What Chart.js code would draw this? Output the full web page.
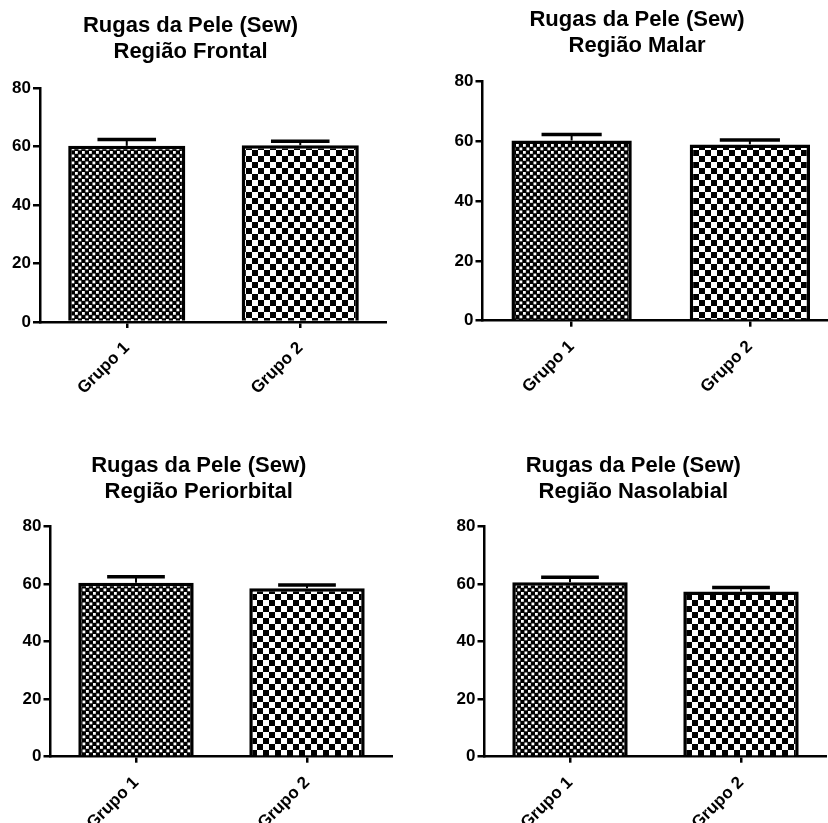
<!DOCTYPE html>
<html>
<head>
<meta charset="utf-8">
<script src="https://cdn.jsdelivr.net/npm/chart.js@4.4.1/dist/chart.umd.min.js"></script>
<style>
  html, body { margin: 0; padding: 0; background: #fff; width: 828px; height: 823px; overflow: hidden; position: relative; }
  canvas { position: absolute; }
</style>
</head>
<body>
<canvas id="c0"></canvas>
<canvas id="c1"></canvas>
<canvas id="c2"></canvas>
<canvas id="c3"></canvas>
<script>
// ---- data ----
const categories = ['Grupo 1', 'Grupo 2'];
const titleTop = 'Rugas da Pele (Sew)';
const regions = ['Região Frontal', 'Região Malar', 'Região Periorbital', 'Região Nasolabial'];

const frontalMean = [60.2, 60.4];
const frontalSem  = [2.2, 1.4];
const malarMean = [60.3, 59.0];
const malarSem  = [2.0, 1.5];
const periorbitalMean = [60.5, 58.6];
const periorbitalSem  = [2.1, 1.1];
const nasolabialMean = [60.7, 57.4];
const nasolabialSem  = [1.7, 1.4];

const yTicks = [0, 20, 40, 60, 80];

// ---- panel geometry (canvas placement and axis box sizes) ----
const panels = [
  { id: 'c0', mean: frontalMean,     sem: frontalSem,     region: regions[0], left: -6,  top: 0,   w: 393, h: 410, padR: 0,   yw: 46,   xh: 88,   tTop: 12.5, tBot: 23.5 },
  { id: 'c1', mean: malarMean,       sem: malarSem,       region: regions[1], left: 435, top: 0,   w: 404, h: 410, padR: 0,   yw: 47.5, xh: 89.3, tTop: 7,    tBot: 22.7 },
  { id: 'c2', mean: periorbitalMean, sem: periorbitalSem, region: regions[2], left: 5,   top: 420, w: 388, h: 403, padR: 0.5, yw: 45.5, xh: 66.3, tTop: 33.3, tBot: 21.4 },
  { id: 'c3', mean: nasolabialMean,  sem: nasolabialSem,  region: regions[3], left: 440, top: 420, w: 387, h: 403, padR: 0.5, yw: 44.5, xh: 66.3, tTop: 33.3, tBot: 21.4 }
];

const FONT = "'Liberation Sans', Arial, Helvetica, sans-serif";

// fine dotted checker (group 1) and coarse checkerboard (group 2)
function finePattern() {
  const c = document.createElement('canvas');
  c.width = 7; c.height = 7;
  const g = c.getContext('2d');
  g.fillStyle = '#000'; g.fillRect(0, 0, 7, 7);
  g.fillStyle = '#fff';
  g.fillRect(0.5, 0.5, 2.8, 2.8);
  g.fillRect(4, 4, 2.8, 2.8);
  return g.createPattern(c, 'repeat');
}
function coarsePattern() {
  const c = document.createElement('canvas');
  c.width = 12; c.height = 12;
  const g = c.getContext('2d');
  g.fillStyle = '#fff'; g.fillRect(0, 0, 12, 12);
  g.fillStyle = '#000';
  g.fillRect(0, 0, 6, 6);
  g.fillRect(6, 6, 6, 6);
  return g.createPattern(c, 'repeat');
}

// upper SEM whiskers drawn above each bar
const errorBars = {
  id: 'errorBars',
  afterDatasetsDraw(chart) {
    const ds = chart.data.datasets[0];
    const meta = chart.getDatasetMeta(0);
    const ys = chart.scales.y;
    const ctx = chart.ctx;
    ctx.save();
    ctx.strokeStyle = '#000';
    ctx.lineCap = 'butt';
    meta.data.forEach((bar, i) => {
      const yTop = ys.getPixelForValue(ds.data[i] + ds.errors[i]);
      const half = bar.width / 4;
      ctx.lineWidth = 2;
      ctx.beginPath();
      ctx.moveTo(bar.x, bar.y);
      ctx.lineTo(bar.x, yTop);
      ctx.stroke();
      ctx.lineWidth = 3.5;
      ctx.beginPath();
      ctx.moveTo(bar.x - half, yTop);
      ctx.lineTo(bar.x + half, yTop);
      ctx.stroke();
    });
    ctx.restore();
  }
};

panels.forEach(p => {
  const cv = document.getElementById(p.id);
  cv.width = p.w; cv.height = p.h;
  cv.style.left = p.left + 'px';
  cv.style.top = p.top + 'px';
  cv.style.width = p.w + 'px';
  cv.style.height = p.h + 'px';

  new Chart(cv, {
    type: 'bar',
    data: {
      labels: categories,
      datasets: [{
        data: p.mean,
        errors: p.sem,
        backgroundColor: [finePattern(), coarsePattern()],
        borderColor: '#000',
        borderWidth: 3.5,
        borderSkipped: 'bottom',
        categoryPercentage: 1,
        barPercentage: 0.675
      }]
    },
    options: {
      responsive: false,
      animation: false,
      devicePixelRatio: 1,
      layout: { padding: { left: 0, right: p.padR, top: 0, bottom: 0 } },
      plugins: {
        legend: { display: false },
        tooltip: { enabled: false },
        title: {
          display: true,
          text: [titleTop, p.region],
          color: '#000',
          font: { family: FONT, size: 22, weight: 'bold', lineHeight: 1.18 },
          padding: { top: p.tTop, bottom: p.tBot }
        }
      },
      scales: {
        x: {
          offset: true,
          grid: { display: true, offset: false, drawOnChartArea: false, drawTicks: true, tickLength: 6, color: '#000', lineWidth: 2.5 },
          border: { display: true, color: '#000', width: 2.5 },
          ticks: { color: '#000', font: { family: FONT, size: 17, weight: 'bold' }, minRotation: 45, maxRotation: 45, padding: 10 },
          afterFit: s => { s.height = p.xh; }
        },
        y: {
          min: 0, max: 80,
          afterBuildTicks: s => { s.ticks = yTicks.map(v => ({ value: v })); },
          grid: { display: true, drawOnChartArea: false, drawTicks: true, tickLength: 7, color: '#000', lineWidth: 2.5 },
          border: { display: true, color: '#000', width: 2.5 },
          ticks: { color: '#000', font: { family: FONT, size: 17, weight: 'bold' }, padding: 2 },
          afterFit: s => { s.width = p.yw; }
        }
      }
    },
    plugins: [errorBars]
  });
});
</script>
</body>
</html>
